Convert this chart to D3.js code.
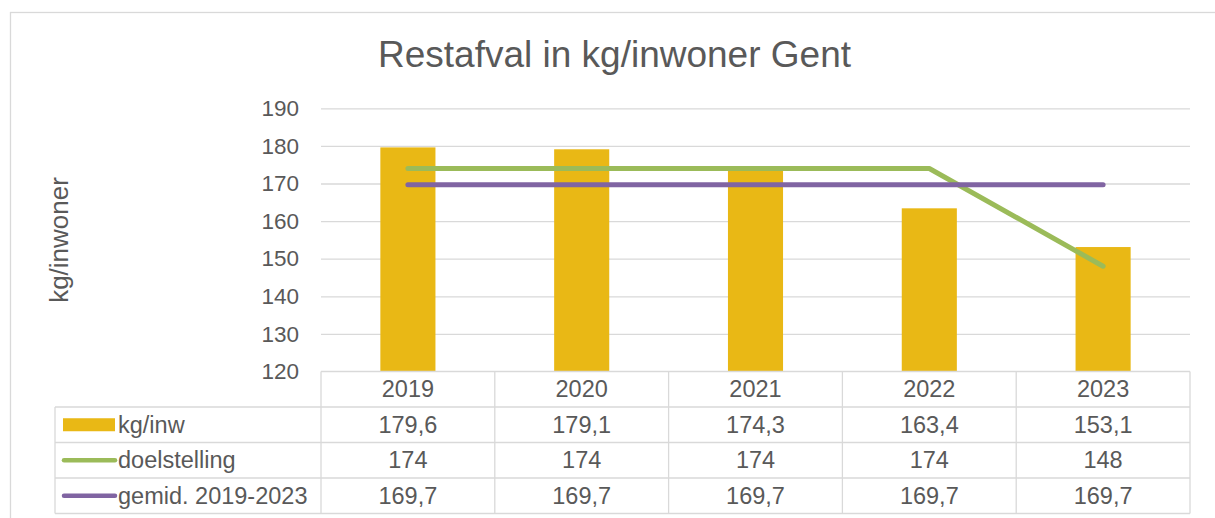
<!DOCTYPE html>
<html lang="nl">
<head>
<meta charset="utf-8">
<script src="https://cdn.jsdelivr.net/npm/d3@7"></script>
<style>
  body { margin: 0; background: #fff; }
  svg text { font-family: "Liberation Sans", Arial, sans-serif; fill: #595959; }
</style>
</head>
<body>
<script>
// chart data
var years = ["2019", "2020", "2021", "2022", "2023"];
var kgInw = [179.6, 179.1, 174.3, 163.4, 153.1];
var doelstelling = [174, 174, 174, 174, 148];
var gemid = [169.7, 169.7, 169.7, 169.7, 169.7];
var yTicks = [120, 130, 140, 150, 160, 170, 180, 190];

var seriesNames = ["kg/inw", "doelstelling", "gemid. 2019-2023"];
var seriesValues = [kgInw, doelstelling, gemid];

var width = 1215, height = 518;
var plotLeft = 321, plotRight = 1190,
    plotTop = 108.3, plotBottom = 371.5;
var rowH = 35.5, legendLeft = 55;

var barColor = "#E9B815", greenColor = "#9BBB59", purpleColor = "#8064A2",
    gridColor = "#D9D9D9";

var nl = d3.formatLocale({decimal: ",", thousands: ".", grouping: [3], currency: ["€", ""]});
var fmt = nl.format("~f");

var svg = d3.select("body").append("svg")
    .attr("width", width)
    .attr("height", height);

// outer frame
svg.append("rect")
    .attr("x", 10.5).attr("y", 12.5)
    .attr("width", width + 20).attr("height", height + 20)
    .style("fill", "none").style("stroke", gridColor).style("stroke-width", 1.3);

// title
svg.append("text")
    .attr("x", 614.5).attr("y", 67)
    .attr("text-anchor", "middle")
    .style("font-size", "37px")
    .text("Restafval in kg/inwoner Gent");

var x = d3.scaleBand().domain(years).range([plotLeft, plotRight]);
var y = d3.scaleLinear().domain([120, 190]).range([plotBottom, plotTop]);

// gridlines + tick labels
var yAxis = svg.append("g")
    .attr("transform", "translate(" + plotLeft + ",0)")
    .call(d3.axisLeft(y).tickValues(yTicks).tickSize(-(plotRight - plotLeft)).tickPadding(22));
yAxis.select(".domain").remove();
yAxis.selectAll(".tick line")
    .style("stroke", gridColor).style("stroke-width", 1.3)
    .filter(function(d) { return d === 120; }).remove();
yAxis.selectAll(".tick text")
    .style("font-size", "22.5px")
    .style("font-family", "Liberation Sans, Arial, sans-serif")
    .style("fill", "#595959");

// y title
svg.append("text")
    .attr("transform", "translate(68,240) rotate(-90)")
    .attr("text-anchor", "middle")
    .style("font-size", "26px")
    .text("kg/inwoner");

// bars
var barFrac = 0.317;
svg.selectAll(".bar")
    .data(kgInw)
    .enter()
    .append("rect")
    .attr("class", "bar")
    .attr("x", function(d, i) { return x(years[i]) + x.bandwidth() * (1 - barFrac) / 2; })
    .attr("width", x.bandwidth() * barFrac)
    .attr("y", function(d) { return y(d); })
    .attr("height", function(d) { return y(120) - y(d); })
    .style("fill", barColor);

// lines
var line = d3.line()
    .x(function(d, i) { return x(years[i]) + x.bandwidth() / 2; })
    .y(function(d) { return y(d); });

svg.append("path")
    .datum(doelstelling)
    .attr("d", line)
    .style("fill", "none").style("stroke", greenColor)
    .style("stroke-width", 5).style("stroke-linecap", "round").style("stroke-linejoin", "round");

svg.append("path")
    .datum(gemid)
    .attr("d", line)
    .style("fill", "none").style("stroke", purpleColor)
    .style("stroke-width", 5).style("stroke-linecap", "round").style("stroke-linejoin", "round");

// data table
var tableTop = plotBottom;
var tbl = svg.append("g");
var lineStyle = function(sel) {
    sel.style("stroke", gridColor).style("stroke-width", 1.3);
};

// horizontal lines
tbl.append("line").attr("x1", plotLeft).attr("x2", plotRight)
    .attr("y1", tableTop).attr("y2", tableTop).call(lineStyle);
[1, 2, 3, 4].forEach(function(r) {
    tbl.append("line").attr("x1", legendLeft).attr("x2", plotRight)
        .attr("y1", tableTop + r * rowH).attr("y2", tableTop + r * rowH).call(lineStyle);
});
// vertical lines
tbl.append("line").attr("x1", legendLeft).attr("x2", legendLeft)
    .attr("y1", tableTop + rowH).attr("y2", tableTop + 4 * rowH).call(lineStyle);
years.forEach(function(yr) {
    tbl.append("line").attr("x1", x(yr)).attr("x2", x(yr))
        .attr("y1", tableTop).attr("y2", tableTop + 4 * rowH).call(lineStyle);
});
tbl.append("line").attr("x1", plotRight).attr("x2", plotRight)
    .attr("y1", tableTop).attr("y2", tableTop + 4 * rowH).call(lineStyle);

// category header
tbl.selectAll(".cat")
    .data(years)
    .enter()
    .append("text")
    .attr("x", function(d) { return x(d) + x.bandwidth() / 2; })
    .attr("y", tableTop + 25.5)
    .attr("text-anchor", "middle")
    .style("font-size", "23.5px")
    .text(function(d) { return d; });

// value rows
seriesValues.forEach(function(vals, r) {
    tbl.selectAll(".val" + r)
        .data(vals)
        .enter()
        .append("text")
        .attr("x", function(d, i) { return x(years[i]) + x.bandwidth() / 2; })
        .attr("y", tableTop + (r + 1) * rowH + 25.5)
        .attr("text-anchor", "middle")
        .style("font-size", "23.5px")
        .text(function(d) { return fmt(d); });

    var rowMid = tableTop + (r + 1.5) * rowH;
    if (r === 0) {
        tbl.append("rect")
            .attr("x", 63).attr("y", rowMid - 6.5)
            .attr("width", 52).attr("height", 13)
            .style("fill", barColor);
    } else {
        tbl.append("line")
            .attr("x1", 64).attr("x2", 115)
            .attr("y1", rowMid).attr("y2", rowMid)
            .style("stroke", r === 1 ? greenColor : purpleColor)
            .style("stroke-width", 4.5).style("stroke-linecap", "round");
    }
    tbl.append("text")
        .attr("x", 118)
        .attr("y", tableTop + (r + 1) * rowH + 25.5)
        .style("font-size", "23.5px")
        .text(seriesNames[r]);
});
</script>
</body>
</html>
